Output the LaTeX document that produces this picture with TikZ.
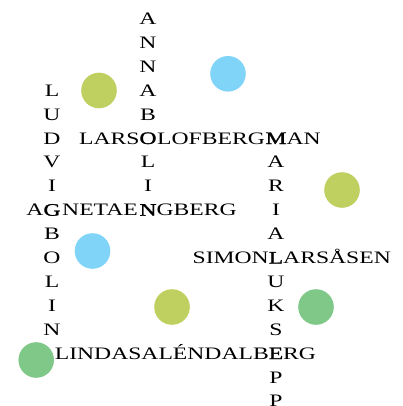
\documentclass[tikz,border=0pt]{standalone}
\usepackage{fontspec}
\usetikzlibrary{calc}
\setmainfont{Liberation Serif}[FakeStretch=1.35]
\newfontfamily\crossfont{Liberation Serif}[FakeStretch=1.35,FakeBold=1.5]
\definecolor{yg}{HTML}{C0D060}
\definecolor{sky}{HTML}{80D4F8}
\definecolor{leaf}{HTML}{80C888}
\tikzset{
  letter/.style={inner sep=0pt, outer sep=0pt, anchor=base, text=black, font=\fontsize{17.5}{20}\selectfont},
  cross/.style={letter, font=\crossfont\fontsize{17.5}{20}\selectfont},
  dot/.style={circle, inner sep=0pt, outer sep=0pt, minimum size=35.6pt, draw=none},
}
\begin{document}
\begin{tikzpicture}[x=1pt,y=-1pt]
\useasboundingbox (0,0) rectangle (403,406);
% dots
\node[dot, fill=yg]   (d1) at (99,90.5) {};
\node[dot, fill=sky]  (d2) at (228,73.8) {};
\node[dot, fill=yg]   (d3) at (342,190) {};
\node[dot, fill=sky]  (d4) at (92.5,251) {};
\node[dot, fill=yg]   (d5) at (172,307) {};
\node[dot, fill=leaf] (d6) at (316,307) {};
\node[dot, fill=leaf] (d7) at (36.2,360) {};
% column B: ANNABOLIN
\foreach \ch/\k in {A/0,N/1,N/2,A/3,B/4,L/6,I/7}
  \node[letter] (b\k) at (148,{24.5+23.9*\k}) {\ch};
\node[cross] (b5) at (148,{24.5+23.9*5}) {O};
\node[cross] (b8) at (148,{24.5+23.9*8}) {N};
% column A: LUDVIGBOLIN
\foreach \ch/\k in {L/3,U/4,D/5,V/6,I/7,B/9,O/10,L/11,I/12,N/13}
  \node[letter] (a\k) at (52,{24.5+23.9*\k}) {\ch};
\node[cross] (a8) at (52,{24.5+23.9*8}) {G};
% column C: MARIALUKSEPP
\foreach \ch/\k in {A/6,R/7,I/8,A/9,U/11,K/12,S/13,P/15,P/16}
  \node[letter] (c\k) at (276,{24.5+23.9*\k}) {\ch};
\node[cross] (c5) at (276,{24.5+23.9*5}) {M};
\node[cross] (c10) at (276,{24.5+23.9*10}) {L};
\node[cross] (c14) at (276,{24.5+23.9*14}) {E};
% LARSOLOFBERGMAN
\node[letter, anchor=base east] (w1a) at (b5.base west) {LARS};
\node[letter] (w1b) at ($(b5.base east)!0.5!(c5.base west)$) {LOFBERG};
\node[letter, anchor=base west] (w1c) at (c5.base east) {AN};
% AGNETAENGBERG
\node[letter, anchor=base east] (w2a) at (a8.base west) {A};
\node[letter] (w2b) at ($(a8.base east)!0.5!(b8.base west)$) {NETAE};
\node[letter, anchor=base west] (w2c) at (b8.base east) {GBERG};
% SIMONLARSÅSEN
\node[letter, anchor=base east] (w3a) at (c10.base west) {SIMON};
\node[letter, anchor=base west] (w3b) at (c10.base east) {ARSÅSEN};
% LINDASALÉNDALBERG
\node[letter, anchor=base east] (w4a) at (c14.base west) {LINDASALÉNDALB};
\node[letter, anchor=base west] (w4b) at (c14.base east) {RG};
\end{tikzpicture}
\end{document}
